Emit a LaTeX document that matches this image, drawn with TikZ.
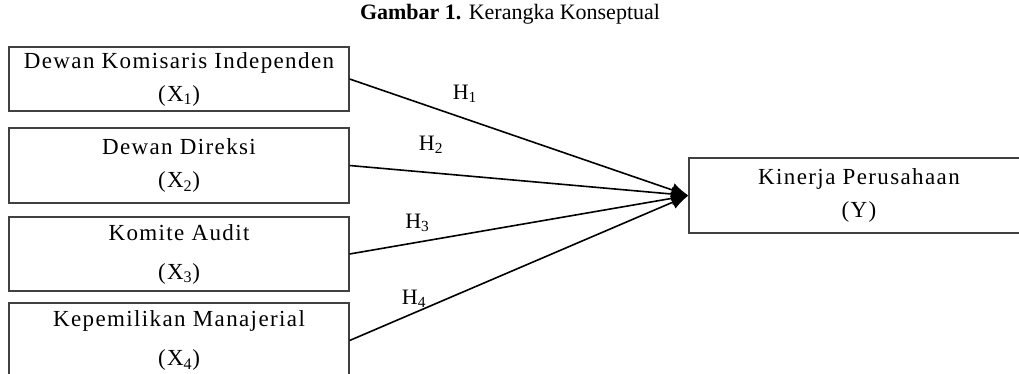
\documentclass[tikz,border=0pt]{standalone}
\usepackage{fontspec}
\setmainfont{Liberation Serif}
\usetikzlibrary{arrows.meta}
\begin{document}
\begin{tikzpicture}[x=1pt, y=-1pt, -{Latex[length=17pt,width=14pt]}, line width=1.6pt,
  var node/.style={rectangle, draw=black!75, line width=1.2pt, minimum width=340pt, inner sep=0pt, align=center,
    font=\fontsize{23}{33}\selectfont\addfontfeature{LetterSpace=6}}]
            \tikzstyle{every node}=[font=\fontsize{22}{26}\selectfont]
            \useasboundingbox (0,0) rectangle (1019,373);
            \clip (0,0) rectangle (1019,373);

              \node (title) at (510,14) {\textbf{Gambar 1.} Kerangka Konseptual};
              \node[var node, minimum height=64pt] (1) at (179,79) {Dewan Komisaris Independen\\(X\textsubscript{1})};
              \node[var node, minimum height=75pt] (2) at (179,165.5) {Dewan Direksi\\(X\textsubscript{2})};
              \node[var node, minimum height=74pt] (3) at (179,254) {Komite Audit\\[6pt](X\textsubscript{3})};
              \node[var node, minimum height=75pt] (4) at (179,340.5) {Kepemilikan Manajerial\\[6pt](X\textsubscript{4})};
              \node[var node, minimum height=75pt] (5) at (859,195.5) {Kinerja Perusahaan\\(Y)};

              \path
                (1.east) edge node [pos=.34, yshift=25pt] {H\textsubscript{1}} (5.west)
                (2.east) edge node [pos=.24, yshift=28pt] {H\textsubscript{2}} (5.west)
                (3.east) edge node [pos=.2, yshift=19pt] {H\textsubscript{3}} (5.west)
                (4.east) edge node [pos=.19, yshift=14pt] {H\textsubscript{4}} (5.west);

            \end{tikzpicture}
\end{document}
